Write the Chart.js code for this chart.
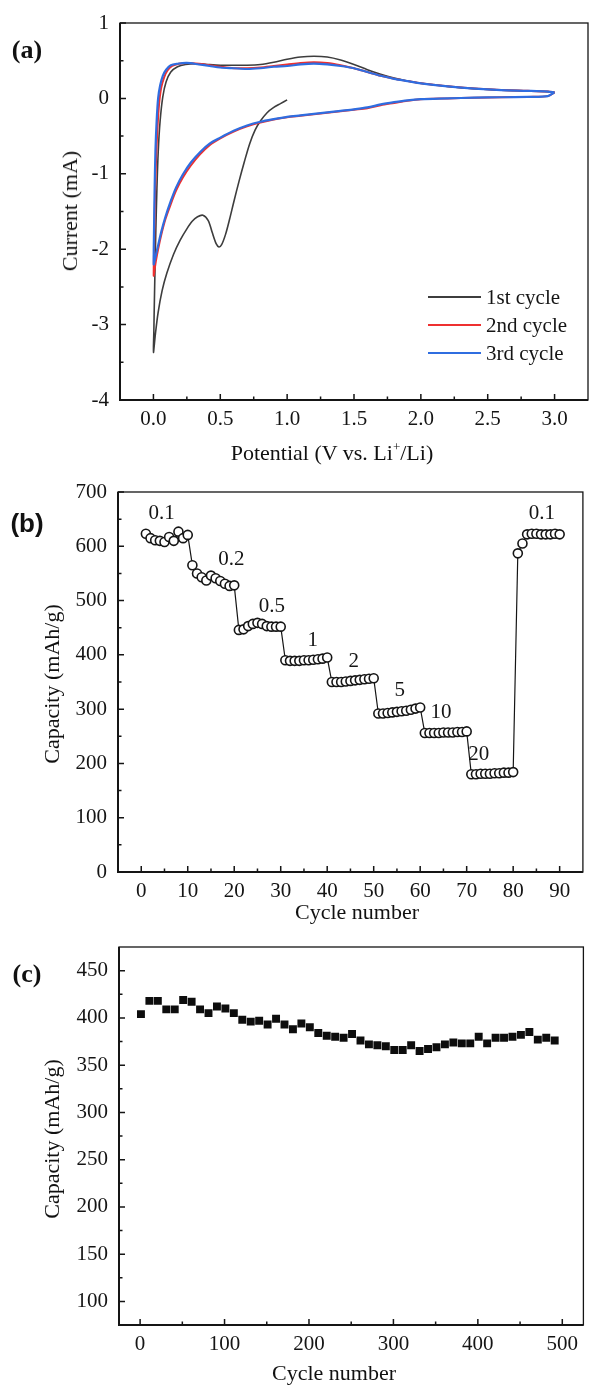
<!DOCTYPE html>
<html>
<head>
<meta charset="utf-8">
<title>CV, rate and cycling</title>
<script src="https://cdn.jsdelivr.net/npm/chart.js@4.4.0/dist/chart.umd.min.js"></script>
<style>
  body { margin: 0; background: #fff; }
  #page { position: relative; width: 589px; height: 1386px; overflow: hidden; background: #fff;
          font-family: "Liberation Serif", serif; color: #111; }
  canvas { position: absolute; left: 0; }
  .lbl { position: absolute; white-space: nowrap; font-size: 22px; line-height: 1; }
  .xt { transform: translate(-50%, -50%); }
  .yt { transform: translate(-50%, -50%) rotate(-90deg); }
  .tag { position: absolute; font-size: 26px; font-weight: bold; transform: translate(-50%, -50%); line-height: 1; }
</style>
</head>
<body>
<div id="page">
  <canvas id="cv" width="589" height="462" style="top:0"></canvas>
  <canvas id="rate" width="589" height="463" style="top:462px"></canvas>
  <canvas id="cycle" width="589" height="461" style="top:925px"></canvas>

  <div class="tag" style="left:27px;top:50px">(a)</div>
  <div class="tag" style="left:27px;top:523px;font-family:'Liberation Sans',sans-serif">(b)</div>
  <div class="tag" style="left:27px;top:974px">(c)</div>

  <div class="lbl yt" style="left:70px;top:211px">Current (mA)</div>
  <div class="lbl xt" style="left:332px;top:452px">Potential (V vs. Li<sup style="font-size:13px">+</sup>/Li)</div>
  <div class="lbl yt" style="left:52px;top:684px">Capacity (mAh/g)</div>
  <div class="lbl xt" style="left:357px;top:912px">Cycle number</div>
  <div class="lbl yt" style="left:52px;top:1139px">Capacity (mAh/g)</div>
  <div class="lbl xt" style="left:334px;top:1373px">Cycle number</div>
</div>
<script>
// ---- (a) cyclic voltammetry, potential (V) / current (mA)
var cvLabels = ["1st cycle", "2nd cycle", "3rd cycle"];
var cv1Potential = [1.00, 0.95, 0.90, 0.85, 0.80, 0.76, 0.72, 0.68, 0.64, 0.60, 0.57, 0.54, 0.51, 0.49, 0.47, 0.44, 0.41, 0.37, 0.33, 0.29, 0.25, 0.20, 0.15, 0.10, 0.065, 0.035, 0.015, 0.0,
    0.003, 0.007, 0.012, 0.018, 0.026, 0.036, 0.05, 0.07, 0.095, 0.13, 0.18, 0.24, 0.32, 0.40, 0.50, 0.60, 0.70, 0.80, 0.90, 1.00, 1.10, 1.20, 1.30, 1.40, 1.50, 1.60, 1.70, 1.80, 1.90, 2.00, 2.20, 2.40, 2.60, 2.80, 2.95, 3.00];
var cv1Current = [-0.02, -0.07, -0.12, -0.19, -0.30, -0.42, -0.60, -0.84, -1.10, -1.38, -1.60, -1.80, -1.94, -1.97, -1.93, -1.78, -1.62, -1.55, -1.57, -1.63, -1.73, -1.88, -2.07, -2.32, -2.55, -2.84, -3.12, -3.37,
    -3.10, -2.70, -2.25, -1.75, -1.20, -0.70, -0.30, 0.02, 0.22, 0.35, 0.42, 0.45, 0.46, 0.45, 0.44, 0.44, 0.44, 0.45, 0.48, 0.52, 0.55, 0.56, 0.55, 0.51, 0.45, 0.38, 0.32, 0.27, 0.23, 0.20, 0.16, 0.13, 0.11, 0.10, 0.09, 0.08];
var cv2Potential = [3.00, 2.95, 2.80, 2.60, 2.40, 2.20, 2.00, 1.90, 1.80, 1.70, 1.60, 1.50, 1.40, 1.30, 1.20, 1.10, 1.00, 0.90, 0.80, 0.70, 0.60, 0.50, 0.42, 0.35, 0.28, 0.22, 0.17, 0.13, 0.09, 0.06, 0.035, 0.018, 0.008, 0.002,
    0.006, 0.012, 0.02, 0.03, 0.042, 0.058, 0.08, 0.105, 0.14, 0.19, 0.26, 0.34, 0.42, 0.50, 0.60, 0.70, 0.80, 0.90, 1.00, 1.10, 1.20, 1.30, 1.40, 1.50, 1.60, 1.70, 1.80, 1.90, 2.00, 2.20, 2.40, 2.60, 2.80, 2.95, 3.00];
var cv2Current = [0.08, 0.03, 0.02, 0.015, 0.01, 0.0, -0.01, -0.03, -0.06, -0.09, -0.13, -0.15, -0.17, -0.19, -0.21, -0.23, -0.25, -0.28, -0.32, -0.37, -0.44, -0.53, -0.62, -0.74, -0.89, -1.05, -1.22, -1.40, -1.60, -1.80, -2.00, -2.16, -2.28, -2.35,
    -1.90, -1.30, -0.80, -0.40, -0.08, 0.14, 0.28, 0.37, 0.43, 0.46, 0.47, 0.46, 0.44, 0.42, 0.40, 0.40, 0.41, 0.43, 0.45, 0.47, 0.48, 0.47, 0.44, 0.40, 0.35, 0.30, 0.26, 0.23, 0.20, 0.16, 0.13, 0.11, 0.10, 0.09, 0.08];
var cv3Potential = [3.00, 2.95, 2.80, 2.60, 2.40, 2.20, 2.00, 1.90, 1.80, 1.70, 1.60, 1.50, 1.40, 1.30, 1.20, 1.10, 1.00, 0.90, 0.80, 0.70, 0.60, 0.50, 0.42, 0.35, 0.28, 0.22, 0.17, 0.13, 0.09, 0.06, 0.035, 0.018, 0.008, 0.002,
    0.004, 0.009, 0.015, 0.024, 0.035, 0.05, 0.07, 0.095, 0.13, 0.18, 0.25, 0.34, 0.42, 0.50, 0.60, 0.70, 0.80, 0.90, 1.00, 1.10, 1.20, 1.30, 1.40, 1.50, 1.60, 1.70, 1.80, 1.90, 2.00, 2.20, 2.40, 2.60, 2.80, 2.95, 3.00];
var cv3Current = [0.08, 0.03, 0.02, 0.015, 0.01, 0.0, -0.01, -0.025, -0.05, -0.08, -0.12, -0.145, -0.165, -0.185, -0.205, -0.225, -0.245, -0.275, -0.31, -0.36, -0.43, -0.52, -0.60, -0.71, -0.85, -1.01, -1.18, -1.36, -1.57, -1.76, -1.95, -2.08, -2.16, -2.20,
    -1.80, -1.20, -0.70, -0.30, 0.0, 0.17, 0.30, 0.38, 0.44, 0.46, 0.47, 0.45, 0.43, 0.41, 0.40, 0.39, 0.40, 0.42, 0.43, 0.45, 0.46, 0.45, 0.43, 0.40, 0.35, 0.30, 0.26, 0.23, 0.20, 0.16, 0.13, 0.11, 0.10, 0.09, 0.08];
var cvXTicks = [0, 0.5, 1, 1.5, 2, 2.5, 3];
var cvYTicks = [-4, -3, -2, -1, 0, 1];

// ---- (b) rate performance
var rateCycles = [];
for (var n = 1; n <= 90; n++) rateCycles.push(n);
var rateCapacity = [
  623, 615, 611, 610, 608, 617, 610, 627, 615, 621,
  565, 550, 543, 537, 546, 541, 536, 531, 527, 528,
  446, 447, 453, 457, 459, 457, 453, 452, 452, 452,
  390, 389, 389, 389, 390, 390, 391, 392, 393, 395,
  350, 350, 350, 351, 352, 353, 354, 355, 356, 357,
  292, 292, 293, 294, 295, 296, 297, 299, 301, 303,
  256, 256, 256, 256, 257, 257, 257, 258, 258, 259,
  180, 180, 181, 181, 181, 182, 182, 183, 183, 184,
  587, 605, 622, 623, 623, 622, 622, 622, 623, 622];
var rateLabels = ["0.1", "0.2", "0.5", "1", "2", "5", "10", "20", "0.1"];
var rateLabelCycle = [4.4, 19.4, 28.1, 36.9, 45.7, 55.6, 64.5, 72.6, 86.2];
var rateLabelCap = [660, 575, 490, 426, 387, 334, 294, 217, 660];
var rateXTicks = [0, 10, 20, 30, 40, 50, 60, 70, 80, 90];
var rateYTicks = [0, 100, 200, 300, 400, 500, 600, 700];

// ---- (c) long cycling
var longCycles = [];
for (var k = 1; k <= 491; k += 10) longCycles.push(k);
var longCapacity = [
  404, 418, 418, 409, 409, 419, 417, 409, 405, 412,
  410, 405, 398, 396, 397, 393, 399, 393, 388, 394,
  390, 384, 381, 380, 379, 383, 376, 372, 371, 370,
  366, 366, 371, 365, 367, 369, 372, 374, 373, 373,
  380, 373, 379, 379, 380, 382, 385, 377, 379, 376];
var longXTicks = [0, 100, 200, 300, 400, 500];
var longYTicks = [100, 150, 200, 250, 300, 350, 400, 450];

var INK = "#151515";
var tickFont = { family: "Liberation Serif", size: 21 };

function points(xs, ys) {
    return xs.map(function (x, i) { return { x: x, y: ys[i] }; });
}

// inward major/minor ticks and the box around the plot
function tickMarks(scale) {
    var major = scale.ticks.map(function (t) { return t.value; });
    var half = (major[1] - major[0]) / 2;
    var out = major.map(function (v) { return [v, 6]; });
    [major[0] - half].concat(major.map(function (v) { return v + half; })).forEach(function (v) {
        if (v > scale.min && v < scale.max) out.push([v, 3.5]);
    });
    return out;
}
var frameAndTicks = {
    id: "frameAndTicks",
    afterDatasetsDraw: function (chart) {
        var ctx = chart.ctx, a = chart.chartArea, xs = chart.scales.x, ys = chart.scales.y;
        ctx.save();
        ctx.strokeStyle = INK;
        ctx.lineWidth = 1.3;
        ctx.strokeRect(a.left, a.top, a.right - a.left, a.bottom - a.top);
        ctx.lineWidth = 2;
        ctx.beginPath();
        ctx.moveTo(a.left, a.top);
        ctx.lineTo(a.left, a.bottom);
        ctx.lineTo(a.right, a.bottom);
        ctx.stroke();
        ctx.lineWidth = 1.5;
        ctx.beginPath();
        tickMarks(xs).forEach(function (t) {
            var p = xs.getPixelForValue(t[0]);
            ctx.moveTo(p, a.bottom); ctx.lineTo(p, a.bottom - t[1]);
        });
        tickMarks(ys).forEach(function (t) {
            var p = ys.getPixelForValue(t[0]);
            ctx.moveTo(a.left, p); ctx.lineTo(a.left + t[1], p);
        });
        ctx.stroke();
        ctx.restore();
    }
};

function axes(o) {
    return {
        x: {
            type: "linear", min: o.xMin, max: o.xMax,
            afterBuildTicks: function (s) { s.ticks = o.xTicks.map(function (v) { return { value: v }; }); },
            afterFit: function (s) { s.height = o.xH; s.paddingLeft = 0; s.paddingRight = 0; },
            grid: { display: false }, border: { display: false },
            ticks: { font: tickFont, color: INK, padding: -1, maxRotation: 0, autoSkip: false, callback: o.xFmt }
        },
        y: {
            type: "linear", min: o.yMin, max: o.yMax,
            afterBuildTicks: function (s) { s.ticks = o.yTicks.map(function (v) { return { value: v }; }); },
            afterFit: function (s) { s.width = o.yW; s.paddingTop = 0; s.paddingBottom = 0; },
            grid: { display: false }, border: { display: false },
            ticks: { font: tickFont, color: INK, padding: 3, autoSkip: false, callback: function (v) { return String(v); } }
        }
    };
}
var quiet = { legend: { display: false }, tooltip: { enabled: false } };

// ---- (a)
var cvLegend = {
    id: "cvLegend",
    afterDraw: function (chart) {
        var ctx = chart.ctx, a = chart.chartArea;
        ctx.save();
        ctx.font = '21px "Liberation Serif"';
        ctx.textBaseline = "middle";
        ctx.fillStyle = INK;
        chart.data.datasets.forEach(function (ds, i) {
            var y = a.bottom - 103 + i * 28;
            ctx.strokeStyle = ds.borderColor;
            ctx.lineWidth = 2;
            ctx.beginPath();
            ctx.moveTo(a.right - 160, y); ctx.lineTo(a.right - 107, y);
            ctx.stroke();
            ctx.fillText(ds.label, a.right - 102, y + 1);
        });
        ctx.restore();
    }
};
new Chart(document.getElementById("cv"), {
    type: "line",
    data: {
        datasets: [
            { label: cvLabels[0], data: points(cv1Potential, cv1Current), borderColor: "#3d3d3d", borderWidth: 1.6, order: 2 },
            { label: cvLabels[1], data: points(cv2Potential, cv2Current), borderColor: "#ee3030", borderWidth: 2, order: 1 },
            { label: cvLabels[2], data: points(cv3Potential, cv3Current), borderColor: "#2f6de0", borderWidth: 2.2, order: 0 }
        ]
    },
    options: {
        responsive: false, animation: false,
        layout: { padding: { top: 23, right: 1, left: 0, bottom: 0 } },
        elements: { point: { radius: 0 }, line: { tension: 0.3, fill: false } },
        plugins: quiet,
        scales: axes({ xMin: -0.25, xMax: 3.25, xTicks: cvXTicks, xH: 62, xFmt: function (v) { return v.toFixed(1); },
                       yMin: -4, yMax: 1, yTicks: cvYTicks, yW: 120 })
    },
    plugins: [frameAndTicks, cvLegend]
});

// ---- (b)
var rateText = {
    id: "rateText",
    afterDatasetsDraw: function (chart) {
        var ctx = chart.ctx, x = chart.scales.x, y = chart.scales.y;
        ctx.save();
        ctx.font = '21px "Liberation Serif"';
        ctx.fillStyle = INK;
        ctx.textAlign = "center";
        ctx.textBaseline = "middle";
        rateLabels.forEach(function (t, i) {
            ctx.fillText(t, x.getPixelForValue(rateLabelCycle[i]), y.getPixelForValue(rateLabelCap[i]));
        });
        ctx.restore();
    }
};
new Chart(document.getElementById("rate"), {
    type: "line",
    data: {
        datasets: [{
            data: points(rateCycles, rateCapacity),
            borderColor: INK, borderWidth: 1.2, tension: 0,
            pointRadius: 4.5, pointBorderWidth: 1.6, pointBackgroundColor: "#fff", pointBorderColor: INK
        }]
    },
    options: {
        responsive: false, animation: false,
        layout: { padding: { top: 30, right: 1, left: 0, bottom: 0 } },
        plugins: quiet,
        scales: axes({ xMin: -5, xMax: 95, xTicks: rateXTicks, xH: 53,
                       yMin: 0, yMax: 700, yTicks: rateYTicks, yW: 118 })
    },
    plugins: [frameAndTicks, rateText]
});

// ---- (c)
new Chart(document.getElementById("cycle"), {
    type: "scatter",
    data: {
        datasets: [{
            data: points(longCycles, longCapacity),
            pointStyle: "rect", pointRadius: 5.6, borderWidth: 0,
            backgroundColor: "#0d0d0d"
        }]
    },
    options: {
        responsive: false, animation: false,
        layout: { padding: { top: 22, right: 1, left: 0, bottom: 0 } },
        plugins: quiet,
        scales: axes({ xMin: -25, xMax: 525, xTicks: longXTicks, xH: 61,
                       yMin: 75, yMax: 475, yTicks: longYTicks, yW: 119 })
    },
    plugins: [frameAndTicks]
});
</script>
</body>
</html>
